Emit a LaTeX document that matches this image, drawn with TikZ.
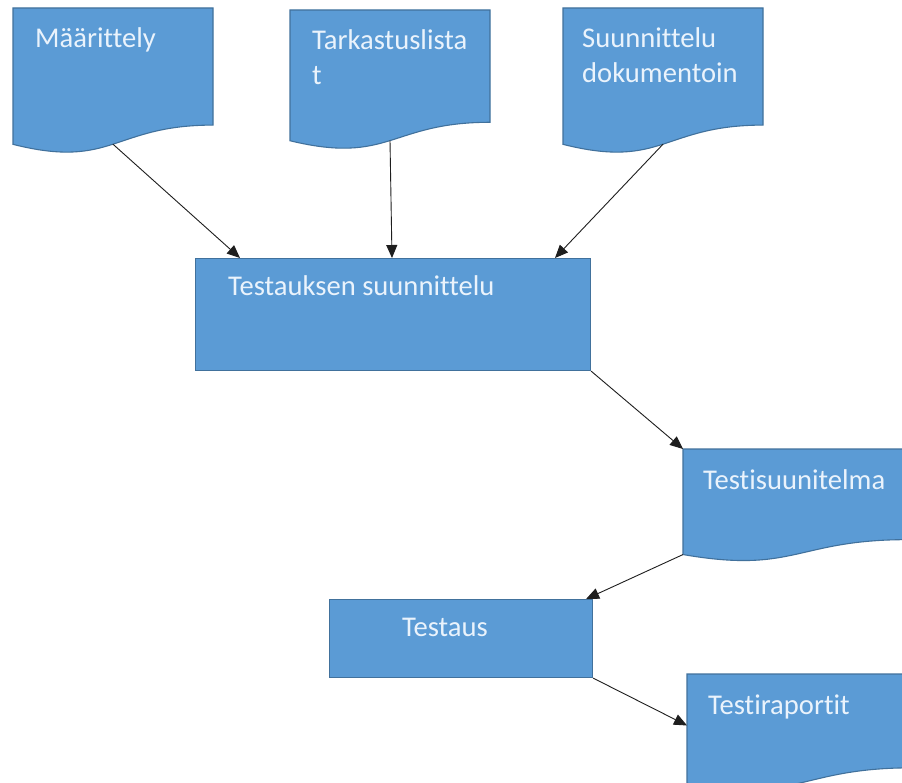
\documentclass[tikz,border=0pt]{standalone}
\usepackage{fontspec}
\setmainfont[Ligatures={NoCommon,NoContextual},RawFeature={-liga;-clig;-dlig;-calt}]{Carlito}
\usetikzlibrary{arrows.meta,calc}

\definecolor{boxblue}{HTML}{5B9BD5}
\definecolor{boxedge}{HTML}{41719C}
\definecolor{labelfg}{HTML}{EAF3FC}
\definecolor{wire}{HTML}{1E1E1E}

\tikzset{
  docbody/.style={fill=boxblue, draw=boxedge, line width=1.1pt},
  rectbox/.style={rectangle, fill=boxblue, draw=boxedge, line width=1.1pt,
    inner sep=0pt, anchor=north west},
  lbl/.style={anchor=base west, inner sep=0pt, text=labelfg,
    font=\fontsize{28.6}{35}\selectfont},
  flow/.style={draw=wire, line width=0.9pt,
    -{Triangle[length=13pt,width=11pt]}},
}

% two stacked lines, aligned on the first baseline
\newcommand\twolines[2]{\begin{tabular}[t]{@{}l@{}}#1\\#2\end{tabular}}

% document symbol: name, left, top, width, height, label x-offset, label
\newcommand\docshape[7]{%
  \begin{scope}[shift={(#2,#3)}]
    \filldraw[docbody] (0,0) -- (#4,0) -- (#4,0.802*#5)
      .. controls (0.5*#4,0.802*#5) and (0.5*#4,1.107*#5) .. (0,0.934*#5) -- cycle;
    \coordinate (#1-nw)     at (0,0);
    \coordinate (#1-foot)   at (0.5*#4,0.933*#5);
    \coordinate (#1-corner) at (0,0.934*#5);
    \coordinate (#1-west)   at (0,0.44*#5);
    \node[lbl] (#1) at (#6,40) {#7};
  \end{scope}}

\begin{document}
\begin{tikzpicture}[x=1pt,y=-1pt]
  \fill[white] (0,0) rectangle (902,783);
  \useasboundingbox (0,0) rectangle (902,783);

  % input documents
  \docshape{def}{13}{8}{200}{146}{22}{Määrittely}
  \docshape{chk}{290}{10}{200}{140}{22}{\twolines{Tarkastuslista}{t}}
  \docshape{des}{563}{8}{200}{146}{19}{\twolines{Suunnittelu}{dokumentoin}}

  % test design step
  \node[rectbox, minimum width=395, minimum height=112] (plan) at (195,258) {};
  \node[lbl] (plan-txt) at (228,296) {Testauksen suunnittelu};

  % test plan document
  \docshape{tp}{683}{449}{225}{113}{20}{Testisuunitelma}

  % test execution step
  \node[rectbox, minimum width=263, minimum height=78] (exec) at (329,599) {};
  \node[lbl] (exec-txt) at (402,636) {Testaus};

  % test report document
  \docshape{rep}{687}{674}{225}{117}{21}{Testiraportit}

  % flow
  \draw[flow] (def-foot) -- ([xshift=45]plan.north west);
  \draw[flow] (chk-foot) -- ([xshift=197]plan.north west);
  \draw[flow] (des-foot) -- ([xshift=360]plan.north west);
  \draw[flow] (plan.south east) -- (tp-nw);
  \draw[flow] (tp-corner) -- ([xshift=-7]exec.north east);
  \draw[flow] (exec.south east) -- (rep-west);
\end{tikzpicture}
\end{document}
